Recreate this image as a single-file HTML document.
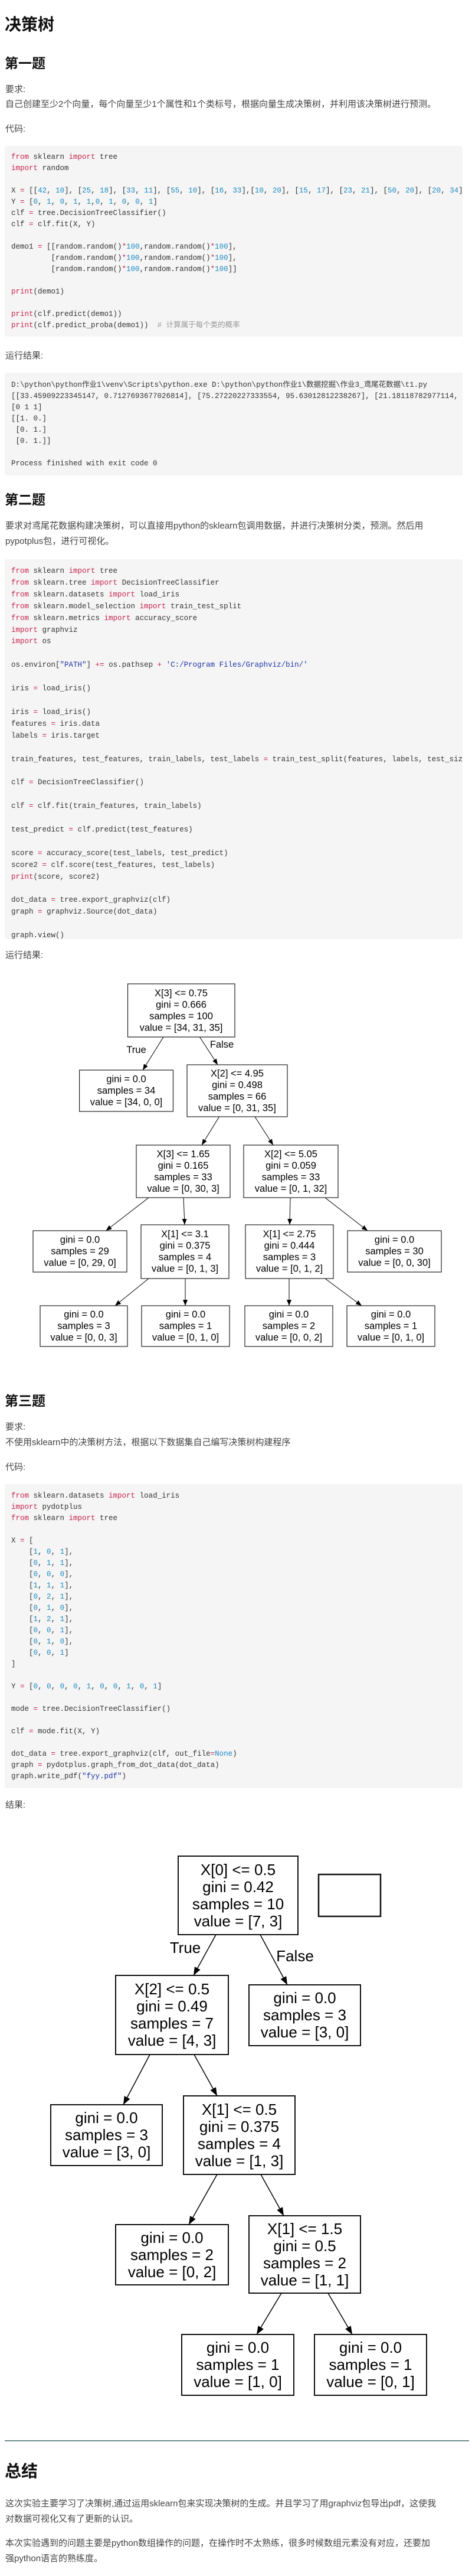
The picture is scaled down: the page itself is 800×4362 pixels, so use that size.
<!DOCTYPE html>
<html><head><meta charset="utf-8">
<style>
html,body{margin:0;padding:0;background:#fff;}
body{width:800px;height:4362px;position:relative;overflow:hidden;font-family:"Liberation Sans","Noto Sans CJK SC",sans-serif;color:#333;}
.t{position:absolute;left:9px;font-size:15px;line-height:26px;white-space:nowrap;color:#444;}
.h1{position:absolute;left:8px;font-size:28px;line-height:36px;font-weight:bold;color:#111;}
.h2{position:absolute;left:8px;font-size:23px;line-height:30px;font-weight:bold;color:#111;}
.code{position:absolute;left:8px;width:776px;background:#f5f5f5;border-radius:3px;padding:0 0 0 11px;margin:0;overflow:hidden;font-family:"Liberation Mono","Noto Sans CJK SC",monospace;font-size:12.5px;line-height:19px;color:#333;white-space:pre;}
.k{color:#c7254e}.n{color:#1b8ac4}.s{color:#1f35a8}.c{color:#999}
svg{position:absolute;left:0;top:0;}
</style></head><body>

<div class="h1" style="top:24px">决策树</div>
<div class="h2" style="top:92px">第一题</div>
<div class="t" style="top:139px">要求:</div>
<div class="t" style="top:164px">自己创建至少2个向量，每个向量至少1个属性和1个类标号，根据向量生成决策树，并利用该决策树进行预测。</div>
<div class="t" style="top:206px">代码:</div>

<pre class="code" style="top:247px;height:323px;padding-top:10px;box-sizing:border-box;"><span class="k">from</span> sklearn <span class="k">import</span> tree
<span class="k">import</span> random

X <span class="k">=</span> [[<span class="n">42</span>, <span class="n">10</span>], [<span class="n">25</span>, <span class="n">18</span>], [<span class="n">33</span>, <span class="n">11</span>], [<span class="n">55</span>, <span class="n">10</span>], [<span class="n">16</span>, <span class="n">33</span>],[<span class="n">10</span>, <span class="n">20</span>], [<span class="n">15</span>, <span class="n">17</span>], [<span class="n">23</span>, <span class="n">21</span>], [<span class="n">50</span>, <span class="n">20</span>], [<span class="n">20</span>, <span class="n">34</span>]]
Y <span class="k">=</span> [<span class="n">0</span>, <span class="n">1</span>, <span class="n">0</span>, <span class="n">1</span>, <span class="n">1</span>,<span class="n">0</span>, <span class="n">1</span>, <span class="n">0</span>, <span class="n">0</span>, <span class="n">1</span>]
clf <span class="k">=</span> tree.DecisionTreeClassifier()
clf <span class="k">=</span> clf.fit(X, Y)

demo1 <span class="k">=</span> [[random.random()<span class="k">*</span><span class="n">100</span>,random.random()<span class="k">*</span><span class="n">100</span>],
         [random.random()<span class="k">*</span><span class="n">100</span>,random.random()<span class="k">*</span><span class="n">100</span>],
         [random.random()<span class="k">*</span><span class="n">100</span>,random.random()<span class="k">*</span><span class="n">100</span>]]

<span class="k">print</span>(demo1)

<span class="k">print</span>(clf.predict(demo1))
<span class="k">print</span>(clf.predict_proba(demo1))  <span class="c"># 计算属于每个类的概率</span></pre>

<div class="t" style="top:590px">运行结果:</div>

<pre class="code" style="top:631px;height:174px;padding-top:12px;box-sizing:border-box;">D:\python\python作业1\venv\Scripts\python.exe D:\python\python作业1\数据挖掘\作业3_鸢尾花数据\t1.py
[[33.45909223345147, 0.7127693677026814], [75.27220227333554, 95.63012812238267], [21.18118782977114, 59.0432118723]]
[0 1 1]
[[1. 0.]
 [0. 1.]
 [0. 1.]]

Process finished with exit code 0</pre>

<div class="h2" style="top:831px">第二题</div>
<div class="t" style="top:878px">要求对鸢尾花数据构建决策树，可以直接用python的sklearn包调用数据，并进行决策树分类，预测。然后用</div>
<div class="t" style="top:904px">pypotplus包，进行可视化。</div>

<pre class="code" style="top:947px;height:643px;padding-top:11px;box-sizing:border-box;line-height:19.9px;"><span class="k">from</span> sklearn <span class="k">import</span> tree
<span class="k">from</span> sklearn.tree <span class="k">import</span> DecisionTreeClassifier
<span class="k">from</span> sklearn.datasets <span class="k">import</span> load_iris
<span class="k">from</span> sklearn.model_selection <span class="k">import</span> train_test_split
<span class="k">from</span> sklearn.metrics <span class="k">import</span> accuracy_score
<span class="k">import</span> graphviz
<span class="k">import</span> os

os.environ[<span class="s">"PATH"</span>] <span class="k">+=</span> os.pathsep <span class="k">+</span> <span class="s">'C:/Program Files/Graphviz/bin/'</span>

iris <span class="k">=</span> load_iris()

iris <span class="k">=</span> load_iris()
features <span class="k">=</span> iris.data
labels <span class="k">=</span> iris.target

train_features, test_features, train_labels, test_labels <span class="k">=</span> train_test_split(features, labels, test_size<span class="k">=</span><span class="n">0.33</span>, random_state<span class="k">=</span><span class="n">0</span>)

clf <span class="k">=</span> DecisionTreeClassifier()

clf <span class="k">=</span> clf.fit(train_features, train_labels)

test_predict <span class="k">=</span> clf.predict(test_features)

score <span class="k">=</span> accuracy_score(test_labels, test_predict)
score2 <span class="k">=</span> clf.score(test_features, test_labels)
<span class="k">print</span>(score, score2)

dot_data <span class="k">=</span> tree.export_graphviz(clf)
graph <span class="k">=</span> graphviz.Source(dot_data)

graph.view()</pre>

<div class="t" style="top:1605px">运行结果:</div>

<div class="h2" style="top:2357px">第三题</div>
<div class="t" style="top:2404px">要求:</div>
<div class="t" style="top:2430px">不使用sklearn中的决策树方法，根据以下数据集自己编写决策树构建程序</div>
<div class="t" style="top:2472px">代码:</div>

<pre class="code" style="top:2513px;height:515px;padding-top:11px;box-sizing:border-box;"><span class="k">from</span> sklearn.datasets <span class="k">import</span> load_iris
<span class="k">import</span> pydotplus
<span class="k">from</span> sklearn <span class="k">import</span> tree

X <span class="k">=</span> [
    [<span class="n">1</span>, <span class="n">0</span>, <span class="n">1</span>],
    [<span class="n">0</span>, <span class="n">1</span>, <span class="n">1</span>],
    [<span class="n">0</span>, <span class="n">0</span>, <span class="n">0</span>],
    [<span class="n">1</span>, <span class="n">1</span>, <span class="n">1</span>],
    [<span class="n">0</span>, <span class="n">2</span>, <span class="n">1</span>],
    [<span class="n">0</span>, <span class="n">1</span>, <span class="n">0</span>],
    [<span class="n">1</span>, <span class="n">2</span>, <span class="n">1</span>],
    [<span class="n">0</span>, <span class="n">0</span>, <span class="n">1</span>],
    [<span class="n">0</span>, <span class="n">1</span>, <span class="n">0</span>],
    [<span class="n">0</span>, <span class="n">0</span>, <span class="n">1</span>]
]

Y <span class="k">=</span> [<span class="n">0</span>, <span class="n">0</span>, <span class="n">0</span>, <span class="n">0</span>, <span class="n">1</span>, <span class="n">0</span>, <span class="n">0</span>, <span class="n">1</span>, <span class="n">0</span>, <span class="n">1</span>]

mode <span class="k">=</span> tree.DecisionTreeClassifier()

clf <span class="k">=</span> mode.fit(X, Y)

dot_data <span class="k">=</span> tree.export_graphviz(clf, out_file<span class="k">=</span><span class="n">None</span>)
graph <span class="k">=</span> pydotplus.graph_from_dot_data(dot_data)
graph.write_pdf(<span class="s">"fyy.pdf"</span>)</pre>

<div class="t" style="top:3044px">结果:</div>

<div style="position:absolute;left:8px;top:4132px;width:787px;height:2px;background:#6f8a8a;"></div>
<div class="h1" style="top:4167px">总结</div>
<div class="t" style="top:4227px">这次实验主要学习了决策树,通过运用sklearn包来实现决策树的生成。并且学习了用graphviz包导出pdf，这使我</div>
<div class="t" style="top:4253px">对数据可视化又有了更新的认识。</div>
<div class="t" style="top:4294px">本次实验遇到的问题主要是python数组操作的问题，在操作时不太熟练，很多时候数组元素没有对应，还要加</div>
<div class="t" style="top:4320px">强python语言的熟练度。</div>

<svg width="800" height="4362" viewBox="0 0 800 4362" xmlns="http://www.w3.org/2000/svg" font-family="Liberation Sans, sans-serif" fill="#000">
<defs>
<marker id="a1" markerUnits="userSpaceOnUse" markerWidth="10" markerHeight="8" refX="10" refY="4" orient="auto"><path d="M0,0 L10,4 L0,8 z" fill="#000"/></marker>
<marker id="a2" markerUnits="userSpaceOnUse" markerWidth="14" markerHeight="11" refX="14" refY="5.5" orient="auto"><path d="M0,0 L14,5.5 L0,11 z" fill="#000"/></marker>
</defs>
<!-- Tree 1 -->
<g stroke="#222" stroke-width="1.2" fill="none">
<rect x="216.5" y="1666" width="181.5" height="90"/>
<rect x="134.6" y="1812" width="158.9" height="70"/>
<rect x="317" y="1803" width="170" height="88"/>
<rect x="231" y="1939" width="159" height="89"/>
<rect x="413" y="1939" width="160" height="89"/>
<rect x="56" y="2084" width="159" height="70"/>
<rect x="239" y="2074" width="149" height="91"/>
<rect x="416" y="2074" width="149" height="91"/>
<rect x="589" y="2084" width="159" height="70"/>
<rect x="68" y="2211" width="148" height="69"/>
<rect x="240" y="2211" width="149" height="69"/>
<rect x="415" y="2211" width="149" height="69"/>
<rect x="588" y="2211" width="149" height="69"/>
</g>
<g stroke="#000" stroke-width="1" fill="none" marker-end="url(#a1)">
<line x1="277" y1="1756" x2="242" y2="1812"/>
<line x1="338.5" y1="1756" x2="369" y2="1803"/>
<line x1="371.5" y1="1891" x2="342" y2="1939"/>
<line x1="432" y1="1891" x2="463" y2="1939"/>
<line x1="252" y1="2028" x2="179.5" y2="2084"/>
<line x1="311" y1="2028" x2="313" y2="2074"/>
<line x1="492" y1="2028" x2="491" y2="2074"/>
<line x1="551" y1="2028" x2="623" y2="2084"/>
<line x1="252" y1="2165" x2="195" y2="2211"/>
<line x1="314" y1="2165" x2="314" y2="2211"/>
<line x1="490" y1="2165" x2="490" y2="2211"/>
<line x1="551" y1="2165" x2="613" y2="2211"/>
</g>
<g font-size="16.5" text-anchor="middle" dominant-baseline="central">
<text x="307" y="1682">X[3] &lt;= 0.75</text><text x="307" y="1701.5">gini = 0.666</text><text x="307" y="1721">samples = 100</text><text x="307" y="1740.5">value = [34, 31, 35]</text>
<text x="214" y="1827.5">gini = 0.0</text><text x="214" y="1847">samples = 34</text><text x="214" y="1866.5">value = [34, 0, 0]</text>
<text x="402" y="1818">X[2] &lt;= 4.95</text><text x="402" y="1837.5">gini = 0.498</text><text x="402" y="1857">samples = 66</text><text x="402" y="1876.5">value = [0, 31, 35]</text>
<text x="310.5" y="1954.5">X[3] &lt;= 1.65</text><text x="310.5" y="1974">gini = 0.165</text><text x="310.5" y="1993.5">samples = 33</text><text x="310.5" y="2013">value = [0, 30, 3]</text>
<text x="493" y="1954.5">X[2] &lt;= 5.05</text><text x="493" y="1974">gini = 0.059</text><text x="493" y="1993.5">samples = 33</text><text x="493" y="2013">value = [0, 1, 32]</text>
<text x="135.5" y="2099.5">gini = 0.0</text><text x="135.5" y="2119">samples = 29</text><text x="135.5" y="2138.5">value = [0, 29, 0]</text>
<text x="313.5" y="2090">X[1] &lt;= 3.1</text><text x="313.5" y="2109.5">gini = 0.375</text><text x="313.5" y="2129">samples = 4</text><text x="313.5" y="2148.5">value = [0, 1, 3]</text>
<text x="490.5" y="2090">X[1] &lt;= 2.75</text><text x="490.5" y="2109.5">gini = 0.444</text><text x="490.5" y="2129">samples = 3</text><text x="490.5" y="2148.5">value = [0, 1, 2]</text>
<text x="668.5" y="2099.5">gini = 0.0</text><text x="668.5" y="2119">samples = 30</text><text x="668.5" y="2138.5">value = [0, 0, 30]</text>
<text x="142" y="2226">gini = 0.0</text><text x="142" y="2245.5">samples = 3</text><text x="142" y="2265">value = [0, 0, 3]</text>
<text x="314.5" y="2226">gini = 0.0</text><text x="314.5" y="2245.5">samples = 1</text><text x="314.5" y="2265">value = [0, 1, 0]</text>
<text x="489.5" y="2226">gini = 0.0</text><text x="489.5" y="2245.5">samples = 2</text><text x="489.5" y="2265">value = [0, 0, 2]</text>
<text x="662.5" y="2226">gini = 0.0</text><text x="662.5" y="2245.5">samples = 1</text><text x="662.5" y="2265">value = [0, 1, 0]</text>
<text x="231" y="1778">True</text><text x="376" y="1769">False</text>
</g>
<!-- Tree 2 -->
<g stroke="#111" stroke-width="2" fill="none">
<rect x="302" y="3143" width="203" height="133"/>
<rect x="540" y="3174" width="105" height="71" stroke-width="2.5"/>
<rect x="196" y="3345" width="191" height="134"/>
<rect x="422" y="3361" width="189" height="103"/>
<rect x="86" y="3564" width="189" height="103"/>
<rect x="311" y="3549" width="189" height="133"/>
<rect x="196" y="3767" width="191" height="102"/>
<rect x="422" y="3752" width="189" height="131"/>
<rect x="308" y="3953" width="190" height="103"/>
<rect x="533" y="3953" width="190" height="103"/>
</g>
<g stroke="#000" stroke-width="1.5" fill="none" marker-end="url(#a2)">
<line x1="366" y1="3276" x2="328" y2="3345"/>
<line x1="441" y1="3276" x2="487" y2="3361"/>
<line x1="254" y1="3479" x2="209" y2="3564"/>
<line x1="329" y1="3479" x2="368" y2="3549"/>
<line x1="368" y1="3682" x2="320" y2="3767"/>
<line x1="442" y1="3682" x2="481" y2="3752"/>
<line x1="477" y1="3883" x2="435" y2="3953"/>
<line x1="556" y1="3883" x2="597" y2="3953"/>
</g>
<g font-size="26" text-anchor="middle" dominant-baseline="central">
<text x="403.5" y="3166">X[0] &lt;= 0.5</text><text x="403.5" y="3195">gini = 0.42</text><text x="403.5" y="3224">samples = 10</text><text x="403.5" y="3253">value = [7, 3]</text>
<text x="291.5" y="3368">X[2] &lt;= 0.5</text><text x="291.5" y="3397">gini = 0.49</text><text x="291.5" y="3426">samples = 7</text><text x="291.5" y="3455">value = [4, 3]</text>
<text x="516.5" y="3383">gini = 0.0</text><text x="516.5" y="3412">samples = 3</text><text x="516.5" y="3441">value = [3, 0]</text>
<text x="180.5" y="3586">gini = 0.0</text><text x="180.5" y="3615">samples = 3</text><text x="180.5" y="3644">value = [3, 0]</text>
<text x="405.5" y="3572">X[1] &lt;= 0.5</text><text x="405.5" y="3601">gini = 0.375</text><text x="405.5" y="3630">samples = 4</text><text x="405.5" y="3659">value = [1, 3]</text>
<text x="291.5" y="3789">gini = 0.0</text><text x="291.5" y="3818">samples = 2</text><text x="291.5" y="3847">value = [0, 2]</text>
<text x="516.5" y="3774">X[1] &lt;= 1.5</text><text x="516.5" y="3803">gini = 0.5</text><text x="516.5" y="3832">samples = 2</text><text x="516.5" y="3861">value = [1, 1]</text>
<text x="403" y="3975">gini = 0.0</text><text x="403" y="4004">samples = 1</text><text x="403" y="4033">value = [1, 0]</text>
<text x="628" y="3975">gini = 0.0</text><text x="628" y="4004">samples = 1</text><text x="628" y="4033">value = [0, 1]</text>
<text x="314" y="3298">True</text><text x="500" y="3312">False</text>
</g>
</svg>
</body></html>
